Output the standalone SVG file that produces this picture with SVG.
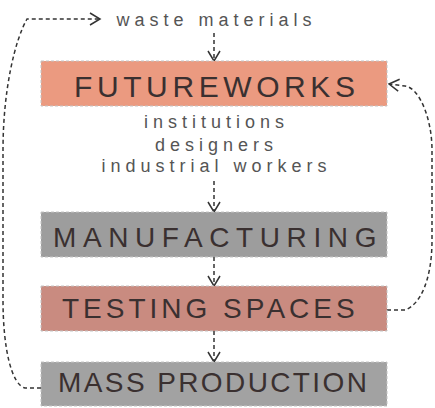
<svg xmlns="http://www.w3.org/2000/svg" width="435" height="408" viewBox="0 0 435 408">
<style>
.box{stroke:#c4c4c4;stroke-width:1;stroke-dasharray:3 2}
.big{font-family:"Liberation Sans",Arial,sans-serif;fill:#3a3030}
.small{font-family:"Liberation Sans",Arial,sans-serif;font-size:18px;fill:#555;text-anchor:middle;letter-spacing:5px}
.con{fill:none;stroke:#333;stroke-width:1.5;stroke-dasharray:4 3}
</style>
<defs>
<marker id="chev" markerUnits="userSpaceOnUse" markerWidth="14" markerHeight="16" refX="11" refY="7" orient="auto" overflow="visible">
<path d="M1,1 L11,7 L1,13" fill="none" stroke="#333" stroke-width="1.5" stroke-dasharray="none"/>
</marker>
</defs>
<rect width="435" height="408" fill="#fff"/>
<g id="connectors">
<path class="con" d="M214,33 L214,61" marker-end="url(#chev)"/>
<path class="con" d="M214,181 L214,212" marker-end="url(#chev)"/>
<path class="con" d="M214,257 L214,286" marker-end="url(#chev)"/>
<path class="con" d="M214,331 L214,362" marker-end="url(#chev)"/>
<path class="con" d="M41,388 L25,388 C12,385 3,350 3,300 L3,150 C3,90 15,40 27,19 L100,19" marker-end="url(#chev)"/>
<path class="con" d="M387,310 L405,310 C420,305 432,280 432,240 L432,150 C432,120 420,88 405,86 L389,84" marker-end="url(#chev)"/>
</g>
<g id="waste"><text class="small" x="216.5" y="26">waste materials</text></g>
<g id="futureworks">
<rect class="box" x="41" y="61" width="346" height="45" fill="#eb9a80"/>
<text class="big" x="74" y="97" font-size="30" letter-spacing="4.6">FUTUREWORKS</text>
</g>
<g id="actors">
<text class="small" x="216.5" y="128">institutions</text>
<text class="small" x="216.5" y="151">designers</text>
<text class="small" x="216.5" y="172">industrial workers</text>
</g>
<g id="manufacturing">
<rect class="box" x="41" y="212" width="346" height="45" fill="#9d9d9d"/>
<text class="big" x="53" y="247" font-size="28" letter-spacing="6.6">MANUFACTURING</text>
</g>
<g id="testing">
<rect class="box" x="41" y="286" width="346" height="45" fill="#c98b80"/>
<text class="big" x="62" y="318" font-size="28" letter-spacing="4">TESTING SPACES</text>
</g>
<g id="mass">
<rect class="box" x="41" y="362" width="346" height="44" fill="#a2a2a2"/>
<text class="big" x="58" y="392" font-size="28" letter-spacing="2.4">MASS PRODUCTION</text>
</g>
</svg>
